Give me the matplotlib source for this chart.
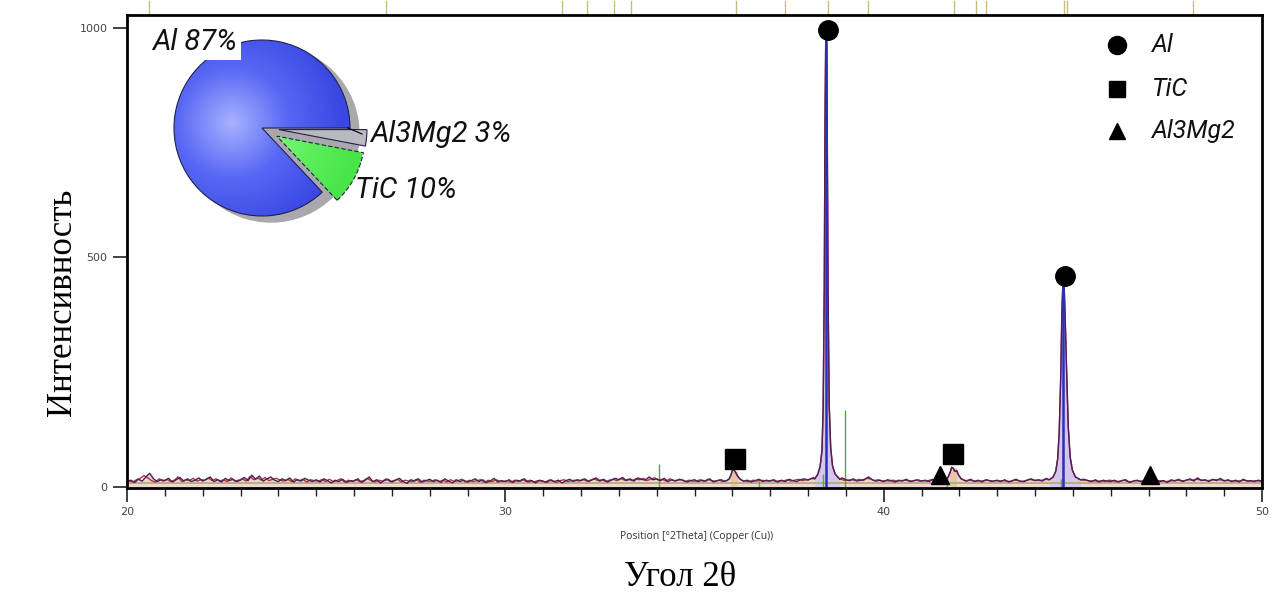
import numpy as np
import matplotlib
matplotlib.use("Agg")
import matplotlib.pyplot as plt
from matplotlib.lines import Line2D
from matplotlib.patches import Circle
from matplotlib.colors import LinearSegmentedColormap

# ---------------- data ----------------
# background noise, observed (20.0 .. 50.0 step 0.1)
bg_a = [12, 15, 10, 17, 13, 22, 30, 18, 12, 16,
        14, 19, 11, 16, 21, 13, 18, 12, 15, 20,
        13, 17, 22, 12, 16, 11, 19, 14, 17, 12,
        15, 21, 14, 26, 17, 24, 13, 18, 22, 15,
        12, 18, 14, 20, 11, 16, 13, 19, 15, 12,
        16, 11, 18, 14, 9, 15, 12, 17, 10, 14,
        13, 18, 10, 15, 22, 12, 16, 9, 14, 17,
        11, 15, 19, 12, 8, 16, 13, 18, 11, 14,
        17, 12, 15, 10, 18, 13, 9, 16, 12, 15,
        11, 14, 18, 12, 16, 10, 13, 19, 11, 14,
        12, 16, 10, 15, 13, 18, 11, 14, 9, 15,
        13, 10, 16, 12, 15, 9, 14, 17, 12, 16,
        14, 18, 12, 16, 20, 13, 17, 11, 15, 19,
        16, 21, 14, 18, 13, 20, 17, 15, 22, 16,
        18, 14, 19, 12, 16, 13, 17, 15, 11, 14,
        16, 12, 15, 13, 18, 11, 14, 16, 13, 17,
        38, 28, 16, 12, 15, 11, 14, 17, 12, 15,
        13, 16, 11, 15, 12, 17, 14, 12, 16, 18,
        15, 19, 24, 20, 20, 20, 20, 20, 20, 20,
        16, 14, 18, 13, 15, 17, 22, 16, 13, 15,
        12, 16, 14, 11, 15, 13, 17, 12, 14, 16,
        13, 15, 12, 17, 14, 20, 16, 22, 40, 30,
        20, 16, 13, 17, 12, 15, 11, 16, 14, 13,
        15, 12, 16, 11, 14, 17, 13, 12, 15, 18,
        14, 16, 13, 19, 16, 16, 16, 16, 16, 16,
        16, 16, 16, 17, 14, 12, 16, 11, 15, 13,
        12, 15, 11, 14, 16, 10, 13, 15, 12, 14,
        13, 11, 15, 12, 14, 10, 16, 13, 17, 12,
        15, 18, 13, 20, 14, 16, 12, 17, 14, 19,
        13, 16, 12, 15, 11, 17, 13, 14, 12, 15,
        13]
# background noise, second trace (20.05 .. 49.95 step 0.1)
bg_b = [14, 11, 16, 19, 25, 20, 14, 11, 18, 13,
        17, 12, 15, 22, 12, 16, 14, 19, 13, 16,
        15, 20, 14, 18, 13, 16, 12, 20, 13, 15,
        18, 13, 23, 16, 20, 15, 21, 14, 17, 19,
        15, 13, 17, 12, 18, 14, 17, 11, 16, 14,
        13, 16, 12, 17, 12, 14, 18, 11, 15, 12,
        16, 12, 14, 19, 14, 11, 15, 13, 18, 12,
        14, 17, 11, 15, 13, 12, 17, 10, 15, 13,
        13, 16, 12, 15, 11, 16, 12, 14, 17, 11,
        15, 12, 14, 16, 10, 15, 12, 16, 13, 12,
        14, 11, 15, 12, 17, 12, 15, 11, 14, 13,
        11, 15, 13, 10, 14, 16, 12, 14, 15, 13,
        17, 13, 15, 18, 14, 16, 12, 15, 17, 14,
        19, 15, 17, 14, 18, 16, 19, 14, 18, 20,
        15, 17, 13, 18, 14, 15, 16, 12, 15, 13,
        13, 16, 12, 17, 14, 13, 15, 12, 16, 20,
        34, 20, 14, 13, 12, 15, 13, 15, 14, 13,
        15, 12, 14, 13, 16, 13, 15, 17, 14, 16,
        17, 21, 20, 20, 20, 20, 20, 20, 18, 15,
        15, 16, 14, 17, 14, 19, 18, 14, 16, 13,
        14, 13, 15, 13, 14, 15, 14, 13, 15, 13,
        14, 13, 16, 15, 17, 18, 19, 32, 36, 24,
        18, 14, 15, 14, 13, 13, 14, 15, 12, 14,
        13, 14, 13, 12, 15, 14, 12, 14, 17, 15,
        15, 14, 17, 16, 16, 16, 16, 16, 16, 16,
        16, 16, 15, 15, 13, 14, 12, 14, 12, 15,
        14, 12, 13, 15, 12, 12, 14, 13, 13, 15,
        12, 13, 13, 14, 12, 13, 14, 15, 14, 14,
        16, 15, 17, 16, 15, 14, 15, 16, 16, 15,
        14, 14, 13, 13, 14, 15, 13, 13, 14, 13]

# peak profiles
al1_theta = [38.18, 38.26, 38.32, 38.37, 38.40, 38.43, 38.45, 38.47, 38.49, 38.51, 38.53, 38.56, 38.60, 38.65, 38.72, 38.84]
al1_int = [18, 28, 45, 80, 170, 430, 800, 990, 960, 760, 430, 180, 85, 45, 28, 17]
al2_theta = [44.38, 44.48, 44.55, 44.60, 44.64, 44.68, 44.71, 44.74, 44.77, 44.80, 44.84, 44.88, 44.93, 44.99, 45.07, 45.20]
al2_int = [16, 22, 35, 62, 120, 240, 380, 450, 440, 360, 240, 130, 65, 36, 22, 16]
tic1_theta = [35.85, 35.92, 35.97, 36.01, 36.05, 36.09, 36.14, 36.21, 36.30]
tic1_int = [14, 18, 28, 38, 37, 31, 24, 17, 13]
tic2_theta = [41.62, 41.70, 41.76, 41.80, 41.84, 41.88, 41.93, 41.98, 42.05, 42.15]
tic2_int = [15, 21, 33, 43, 41, 34, 36, 26, 18, 14]

# phase markers
al_mark_theta = [38.52, 44.80]
al_mark_int = [995, 460]
tic_mark_theta = [36.08, 41.82]
tic_mark_int = [61, 72]
mg_mark_theta = [41.50, 47.05]
mg_mark_int = [26, 26]

# reference sticks
green_theta = [34.05, 38.40, 38.97, 41.68, 44.70, 36.70]
green_int = [50, 28, 168, 22, 18, 14]
al_stick_theta = [38.47, 44.74]
al_stick_int = [985, 450]
tic_stick_theta = [36.05, 41.82]
tic_stick_int = [36, 42]
top_ticks = [20.59, 26.85, 31.50, 32.15, 32.87, 33.33, 36.10, 37.39, 38.53,
             39.59, 41.86, 42.44, 42.70, 44.77, 44.85, 48.18]
baseline_int = 8

# legend
legend_labels = ["Al", "TiC", "Al3Mg2"]
legend_markers = ["o", "s", "^"]

# pie
pie_values = [3, 10, 87]
pie_texts = ["Al3Mg2 3%", "TiC 10%", "Al 87%"]

xticks_major = [20, 30, 40, 50]
yticks_major = [0, 500, 1000]

# ---------------- build traces ----------------
peaks = [(al1_theta, al1_int), (al2_theta, al2_int), (tic1_theta, tic1_int), (tic2_theta, tic2_int)]


def build(theta, vals):
    theta = np.asarray(theta, float)
    vals = np.asarray(vals, float)
    keep = np.ones_like(theta, bool)
    for pt, _ in peaks:
        keep &= ~((theta >= pt[0]) & (theta <= pt[-1]))
    t = np.concatenate([theta[keep]] + [np.asarray(p[0]) for p in peaks])
    v = np.concatenate([vals[keep]] + [np.asarray(p[1], float) for p in peaks])
    o = np.argsort(t)
    return t[o], v[o]


ta, va = build(20.0 + 0.1 * np.arange(len(bg_a)), bg_a)
tb, vb = build(20.05 + 0.1 * np.arange(len(bg_b)), bg_b)

ITAL = ["Roboto", "Liberation Sans", "DejaVu Sans"]

# ---------------- figure ----------------
W, H = 1272, 595
fig = plt.figure(figsize=(W / 100, H / 100), dpi=100)
fig.patch.set_facecolor("white")
ax = fig.add_axes([127 / W, 1 - 488 / H, (1262 - 127) / W, (488 - 15) / H])
ax.set_xlim(20, 50)
ax.set_ylim(-2, 1028)

ax.fill_between(ta, 0, va, color="#efd6d2", lw=0, zorder=1)
for pt, pv in peaks[:2]:
    ax.fill_between(pt, 0, pv, color="#d6c6ec", lw=0, zorder=1.2)
ax.vlines(tic_stick_theta, 0, tic_stick_int, colors="#e6c8a8", lw=5, zorder=1.3)
ax.axhline(baseline_int, color="#a8b070", lw=1.2, zorder=1.4)
ax.vlines(green_theta, 0, green_int, colors="#3cb43c", lw=1.0, zorder=1.5)
ax.plot(tb, vb, color="#b8303c", lw=1.0, zorder=2)
ax.plot(ta, va, color="#4a2060", lw=1.0, zorder=2.1)
ax.vlines(al_stick_theta, 0, al_stick_int, colors="#2830b8", lw=1.8, zorder=2.2)

ax.plot(al_mark_theta, al_mark_int, "o", color="black", ms=14, zorder=5, clip_on=False)
ax.plot(tic_mark_theta, tic_mark_int, "s", color="black", ms=14, zorder=5)
ax.plot(mg_mark_theta, mg_mark_int, "^", color="black", ms=13, zorder=5)

for t in top_ticks:
    ax.plot([t, t], [1.0, 1.03], color="#cbbd7a", lw=1.0,
            transform=ax.get_xaxis_transform(), clip_on=False)

for s in ax.spines.values():
    s.set_linewidth(2.0)
    s.set_color("black")

ax.set_xticks(xticks_major)
ax.set_xticks(np.arange(21, 50, 1), minor=True)
ax.set_yticks(yticks_major)
ax.tick_params(axis="x", which="major", length=10, width=1.2, direction="out",
               labelsize=8, pad=4)
ax.tick_params(axis="x", which="minor", length=6, width=1.0, direction="out")
ax.tick_params(axis="y", which="major", length=10, width=1.2, direction="out",
               labelsize=8, pad=4)
ax.tick_params(colors="#222222", which="both")
for lab in ax.get_xticklabels() + ax.get_yticklabels():
    lab.set_color("#444444")

# manual legend (axes coordinates)
leg_y = [0.937, 0.844, 0.755]
leg_ms = [13, 12, 12]
for m, y, ms, lab in zip(legend_markers, leg_y, leg_ms, legend_labels):
    ax.plot([0.872], [y], m, color="black", ms=ms, transform=ax.transAxes, clip_on=False, zorder=6)
    ax.text(0.903, y, lab, transform=ax.transAxes, ha="left", va="center",
            family=ITAL, style="italic", weight="normal", fontsize=18, color="#111111")

# axis texts
fig.text(697 / W, 1 - 537 / H, "Position [°2Theta] (Copper (Cu))", ha="center", va="center",
         fontsize=7.5, color="#333333", family=["Open Sans", "DejaVu Sans"])
fig.text(680 / W, 1 - 586 / H, "Угол 2θ", ha="center", va="baseline",
         fontsize=25, family=["Liberation Serif", "DejaVu Serif"], color="black")
fig.text(62 / W, 1 - 302 / H, "Интенсивность", ha="center", va="center", rotation=90,
         fontsize=25, family=["Liberation Serif", "DejaVu Serif"], color="black")

# ---------------- pie inset ----------------
pax = fig.add_axes([162 / W, 1 - 228 / H, 200 / W, 200 / H])
pax.add_patch(Circle((0.09, -0.06), 0.88, color="#a9a9ad", zorder=0))
wedges, _ = pax.pie(pie_values, explode=[0.17, 0.17, 0.0], startangle=0, counterclock=False,
                    radius=0.88, colors=["#b9b9bf", "#5cef5c", "#4a5af0"],
                    wedgeprops=dict(edgecolor="#202050", linewidth=0.8),
                    frame=False)
pax.set_xlim(-1, 1)
pax.set_ylim(-1, 1)
pax.set_aspect("equal")
pax.axis("off")
yy, xx = np.mgrid[-1:1:400j, -1:1:400j]
d = np.hypot(xx + 0.3, yy - 0.05)
cm_b = LinearSegmentedColormap.from_list("b", ["#a8b2ff", "#5868f4", "#3a48e2"])
im = pax.imshow(d, extent=[-1, 1, -1, 1], origin="lower", cmap=cm_b, vmin=0, vmax=1.1, zorder=1.5)
im.set_clip_path(wedges[2])
cm_g = LinearSegmentedColormap.from_list("g", ["#8cf88c", "#5ef05e", "#48e448"])
im2 = pax.imshow(d, extent=[-1, 1, -1, 1], origin="lower", cmap=cm_g, vmin=0.3, vmax=1.3, zorder=1.5)
im2.set_clip_path(wedges[1])
for w in wedges:
    w.set_zorder(2)
    w.set_facecolor("none")
wedges[0].set_facecolor("#b9b9bf")
wedges[0].set_zorder(1.6)
wedges[1].set_linestyle((0, (4, 2)))

pfont = dict(family=ITAL, style="italic", weight="normal", size=21)
fig.text(152 / W, 1 - 42 / H, pie_texts[2], ha="left", va="center", color="#111111",
         bbox=dict(facecolor="white", edgecolor="none", pad=3), zorder=10, **pfont)
fig.text(370 / W, 1 - 134 / H, pie_texts[0], ha="left", va="center", color="#111111", **pfont)
fig.text(355 / W, 1 - 190 / H, pie_texts[1], ha="left", va="center", color="#111111", **pfont)
fig.add_artist(Line2D([348 / W, 362 / W], [1 - 128 / H, 1 - 134 / H], color="black", lw=0.8))

fig.savefig("out.png", dpi=100)
